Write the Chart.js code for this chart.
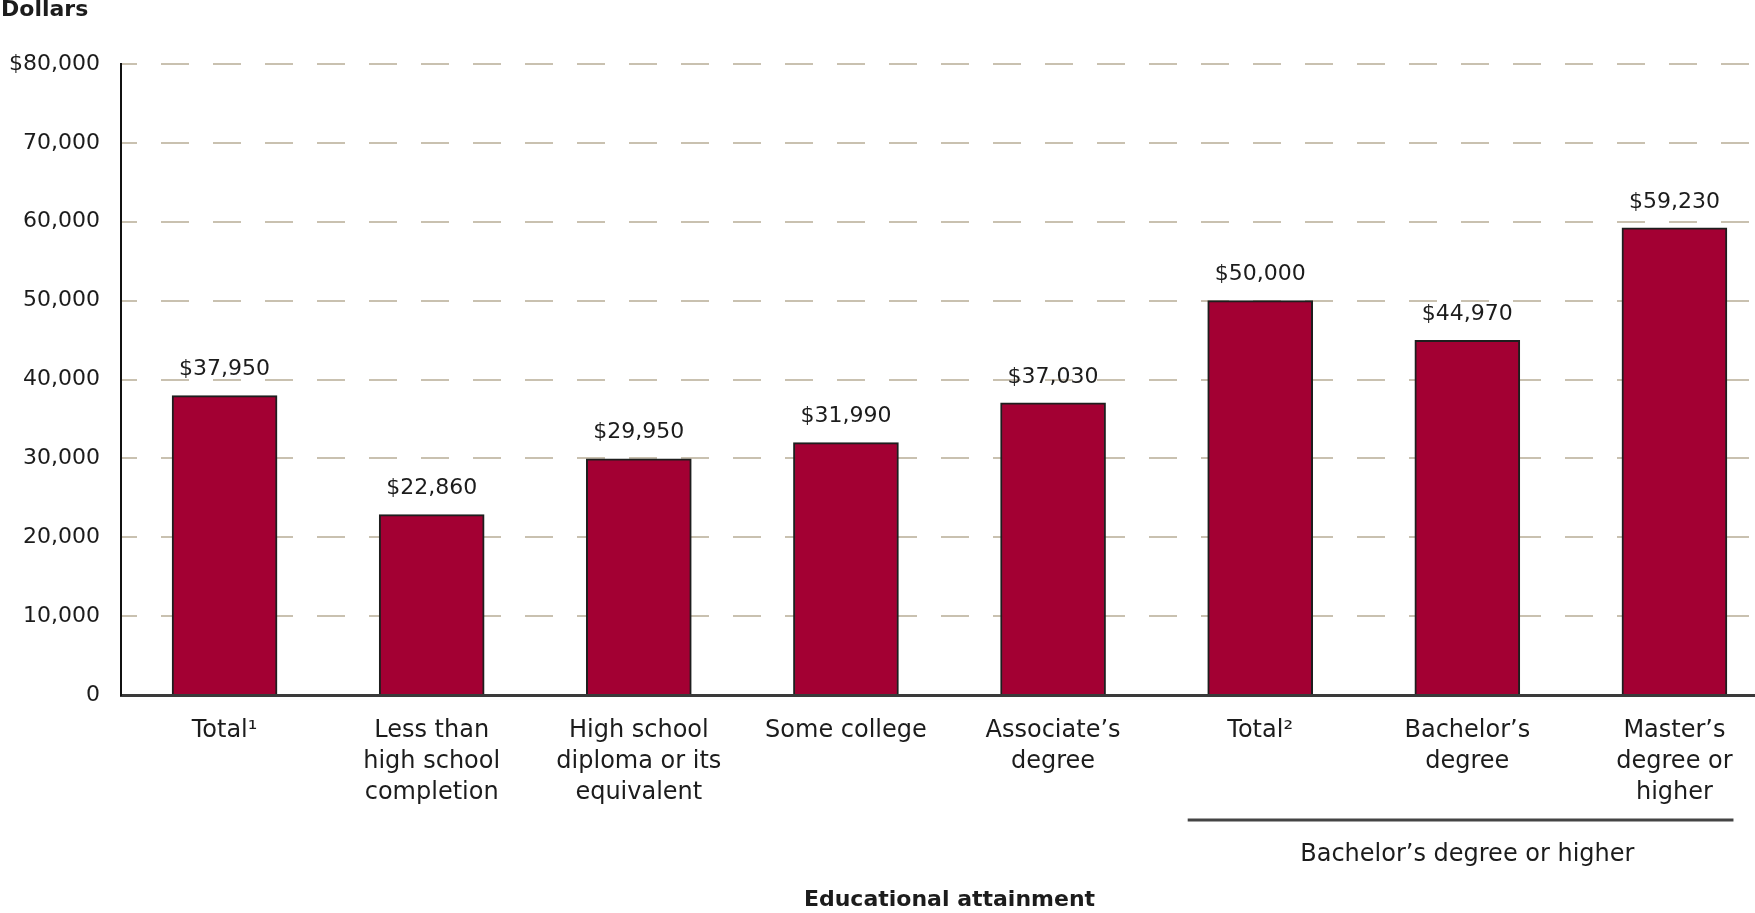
<!DOCTYPE html>
<html>
<head>
<meta charset="utf-8">
<title>Median earnings by educational attainment</title>
<script src="https://cdn.jsdelivr.net/npm/chart.js@4.4.0/dist/chart.umd.min.js"></script>
<style>
  html, body { margin: 0; padding: 0; background: #fff; overflow: hidden; }
  #wrap { position: relative; width: 1778px; height: 913px; }
</style>
</head>
<body>
<div id="wrap"><canvas id="chart"></canvas></div>
<script>
(function () {
    "use strict";

    // Categories (multi-line labels under the x axis)
    var categories = [
        ['Total\u00b9'],
        ['Less than', 'high school', 'completion'],
        ['High school', 'diploma or its', 'equivalent'],
        ['Some college'],
        ['Associate\u2019s', 'degree'],
        ['Total\u00b2'],
        ['Bachelor\u2019s', 'degree'],
        ['Master\u2019s', 'degree or', 'higher']
    ];

    // Median earnings in dollars
    var earnings = [37950, 22860, 29950, 31990, 37030, 50000, 44970, 59230];

    // Y axis tick labels, bottom to top
    var yTickLabels = ['0', '10,000', '20,000', '30,000', '40,000', '50,000', '60,000', '70,000', '$80,000'];

    var groupLabel = 'Bachelor\u2019s degree or higher';
    var FONT = '"DejaVu Sans", sans-serif';
    var TEXT = '#1c1c1c';

    function money(v) {
        return '$' + v.toLocaleString('en-US');
    }

    // value labels, "Dollars" caption and the bracket under the last three bars
    var extras = {
        id: 'extras',
        afterDatasetsDraw: function (chart) {
            var ctx = chart.ctx;
            var x = chart.scales.x;
            var meta = chart.getDatasetMeta(0);
            var cat = x.width / categories.length;

            ctx.save();
            ctx.fillStyle = TEXT;
            ctx.textAlign = 'center';
            ctx.textBaseline = 'middle';
            ctx.font = '22px ' + FONT;
            meta.data.forEach(function (bar, i) {
                ctx.fillText(money(earnings[i]), bar.x, bar.y - 26);
            });

            ctx.textAlign = 'left';
            ctx.font = 'bold 22px ' + FONT;
            ctx.fillText('Dollars', 1, 10);

            var left = x.getPixelForValue(5) - 0.35 * cat;
            var right = x.getPixelForValue(7) + 0.285 * cat;
            var y = chart.chartArea.bottom + 125;
            ctx.strokeStyle = '#444';
            ctx.lineWidth = 3;
            ctx.beginPath();
            ctx.moveTo(left, y);
            ctx.lineTo(right, y);
            ctx.stroke();

            ctx.textAlign = 'center';
            ctx.font = '24px ' + FONT;
            ctx.fillText(groupLabel, x.getPixelForValue(6), y + 35);
            ctx.restore();
        }
    };

    new Chart(document.getElementById('chart'), {
        type: 'bar',
        data: {
            labels: categories,
            datasets: [{
                data: earnings,
                backgroundColor: '#a30033',
                borderColor: '#1e1e1e',
                borderWidth: 2,
                barThickness: 105
            }]
        },
        options: {
            responsive: true,
            maintainAspectRatio: false,
            animation: false,
            devicePixelRatio: 1,
            layout: { padding: { top: 64, left: 0, right: 0, bottom: 0 } },
            plugins: {
                legend: { display: false },
                tooltip: { enabled: false }
            },
            scales: {
                x: {
                    grid: { display: false, drawTicks: false },
                    border: { display: true, color: '#3a3a3a', width: 3 },
                    ticks: {
                        color: TEXT,
                        padding: 20,
                        maxRotation: 0,
                        autoSkip: false,
                        font: { family: FONT, size: 24, lineHeight: '31px' }
                    },
                    title: {
                        display: true,
                        text: 'Educational attainment',
                        color: TEXT,
                        padding: 0,
                        font: { family: FONT, size: 22, weight: 'bold' }
                    },
                    afterFit: function (scale) { scale.height = 218; }
                },
                y: {
                    min: 0,
                    max: 80000,
                    grid: { color: '#c9c1b0', lineWidth: 2, drawTicks: false },
                    border: { display: true, color: '#111', width: 2, dash: [28, 24], dashOffset: 13 },
                    ticks: {
                        stepSize: 10000,
                        color: TEXT,
                        padding: 21,
                        font: { family: FONT, size: 22 },
                        callback: function (value, index) { return yTickLabels[index]; }
                    },
                    afterFit: function (scale) { scale.width = 121; }
                }
            }
        },
        plugins: [extras]
    });
})();
</script>
</body>
</html>
